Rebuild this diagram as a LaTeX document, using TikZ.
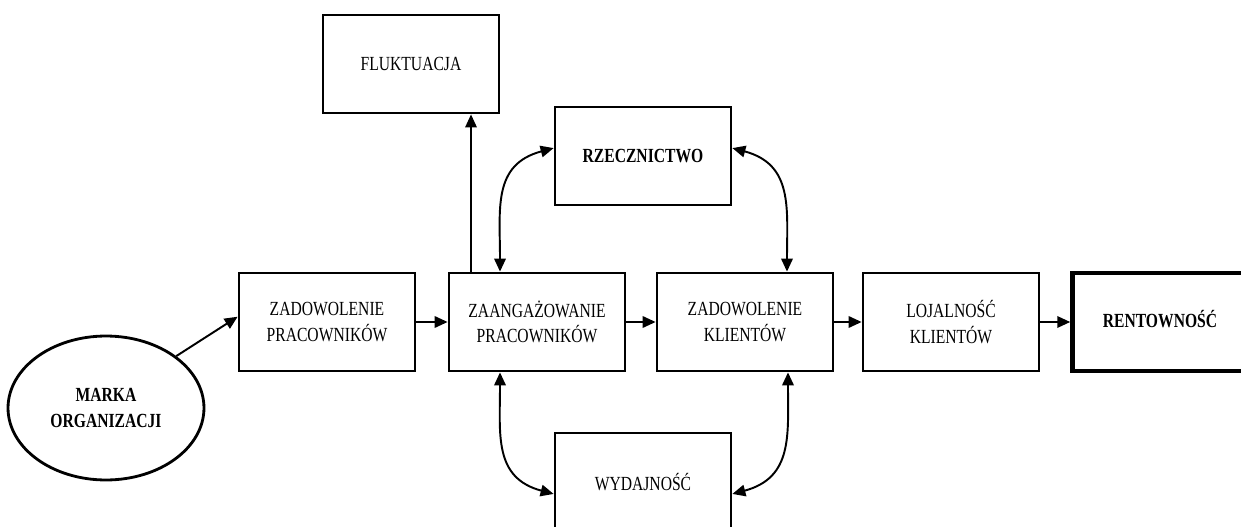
\documentclass[tikz,border=0pt]{standalone}
\usepackage{fontspec}
\setmainfont[FakeStretch=0.78]{Liberation Serif}
\usetikzlibrary{arrows.meta,shapes.geometric}
\begin{document}
\begin{tikzpicture}[
  x=0.02cm, y=-0.02cm,
  bx/.style={draw, line width=1.6pt, minimum width=3.52cm, minimum height=1.96cm,
             align=center, inner sep=2pt, font=\fontsize{11.4pt}{14.6pt}\selectfont},
  ov/.style={ellipse, draw, line width=1.6pt, minimum width=3.92cm, minimum height=2.88cm,
             align=center, inner sep=0pt, font=\fontsize{11.4pt}{14.6pt}\selectfont\bfseries},
  arr/.style={line width=1.1pt, -{Triangle[length=2.6mm,width=2.3mm]}},
  biarr/.style={line width=1.1pt, {Triangle[length=2.6mm,width=2.3mm]}-{Triangle[length=2.6mm,width=2.3mm]}}
]
  \useasboundingbox (0,0) rectangle (1241,527);

  \node[bx] (fluk)  at (411, 64)  {FLUKTUACJA};
  \node[bx] (rzecz) at (643,156)  {\bfseries RZECZNICTWO};
  \node[bx] (zadp)  at (327,322)  {ZADOWOLENIE\\PRACOWNIKÓW};
  \node[bx] (zaang) at (537,322)  {ZAANGAŻOWANIE\\PRACOWNIKÓW};
  \node[bx] (zadk)  at (745,322)  {ZADOWOLENIE\\KLIENTÓW};
  \node[bx] (lojal) at (951,322)  {LOJALNOŚĆ\\KLIENTÓW};
  \node[bx, line width=2.6pt, minimum width=4.3cm] (rent) at (1180,322) {};
  \node[font=\fontsize{11.4pt}{14.6pt}\selectfont\bfseries] (rentt) at (1160,319) {RENTOWNOŚĆ};
  \node[bx] (wyd)   at (643,482)  {WYDAJNOŚĆ};
  \node[ov] (marka) at (106,408)  {MARKA\\ORGANIZACJI};

  \draw[arr] (marka.north east) -- ([yshift=3pt]zadp.west);
  \draw[arr] (zadp.east) -- (zaang.west);
  \draw[arr] (zaang.east) -- (zadk.west);
  \draw[arr] (zadk.east) -- (lojal.west);
  \draw[arr] (lojal.east) -- (rent.west);
  \draw[arr, line width=0.9pt] ([xshift=-1.32cm]zaang.north) -- ([xshift=-1.32cm]zaang.north |- fluk.south);

  \draw[biarr] ([xshift=-0.74cm]zaang.north) to[out=90, in=195, looseness=1.2] ([yshift=4.5pt]rzecz.west);
  \draw[biarr] ([xshift=0.84cm]zadk.north) to[out=90, in=-15, looseness=1.2] ([yshift=4.5pt]rzecz.east);
  \draw[biarr] ([xshift=-0.74cm]zaang.south) to[out=-90, in=165, looseness=1.2] ([yshift=-6.8pt]wyd.west);
  \draw[biarr] ([xshift=0.86cm]zadk.south) to[out=-90, in=15, looseness=1.2] ([yshift=-6.8pt]wyd.east);
\end{tikzpicture}
\end{document}
